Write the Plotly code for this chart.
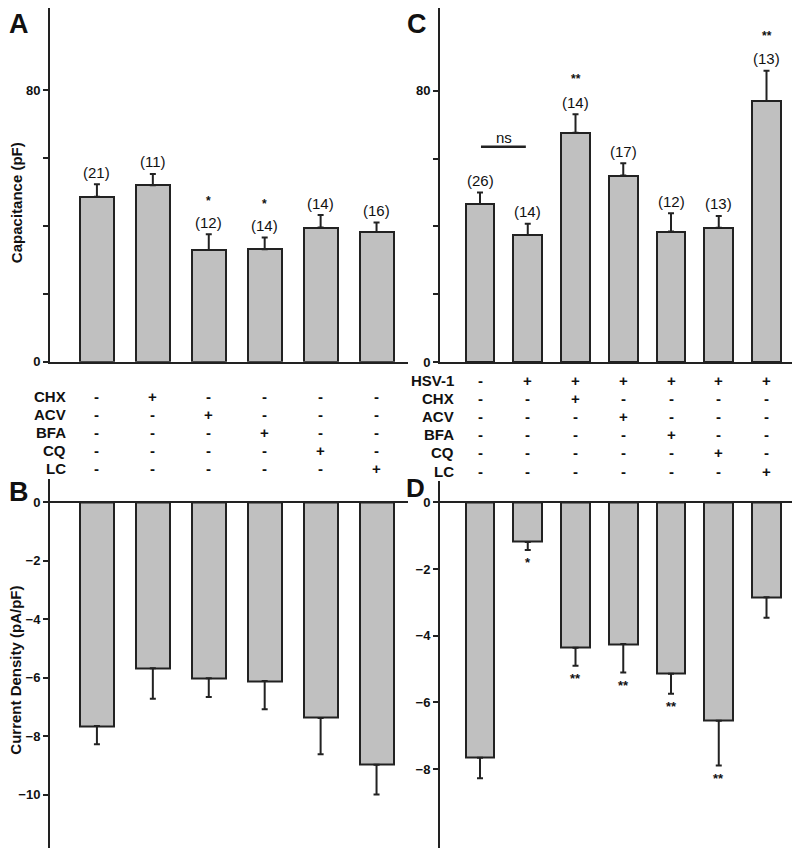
import plotly.graph_objects as go

W, H = 800, 848

# ---------------- data ----------------
A_mean = [48.6, 52.0, 32.9, 33.1, 39.5, 38.2]
A_err = [3.7, 3.3, 4.6, 3.5, 3.7, 2.8]
A_n = ["(21)", "(11)", "(12)", "(14)", "(14)", "(16)"]
A_sig = ["", "", "*", "*", "", ""]

B_mean = [-7.66, -5.68, -6.02, -6.12, -7.38, -8.98]
B_err = [0.62, 1.04, 0.64, 0.96, 1.24, 1.02]

C_mean = [46.6, 37.5, 67.6, 55.0, 38.5, 39.6, 77.0]
C_err = [3.4, 3.3, 5.5, 3.6, 5.4, 3.5, 8.9]
C_n = ["(26)", "(14)", "(14)", "(17)", "(12)", "(13)", "(13)"]
C_sig = ["", "", "**", "", "", "", "**"]

D_mean = [-7.66, -1.19, -4.36, -4.25, -5.14, -6.55, -2.85]
D_err = [0.61, 0.24, 0.54, 0.85, 0.60, 1.34, 0.61]
D_sig = ["", "*", "**", "**", "**", "**", ""]

left_rows = ["CHX", "ACV", "BFA", "CQ", "LC"]
left_flags = [
    ["-", "+", "-", "-", "-", "-"],
    ["-", "-", "+", "-", "-", "-"],
    ["-", "-", "-", "+", "-", "-"],
    ["-", "-", "-", "-", "+", "-"],
    ["-", "-", "-", "-", "-", "+"],
]
right_rows = ["HSV-1", "CHX", "ACV", "BFA", "CQ", "LC"]
right_flags = [
    ["-", "+", "+", "+", "+", "+", "+"],
    ["-", "-", "+", "-", "-", "-", "-"],
    ["-", "-", "-", "+", "-", "-", "-"],
    ["-", "-", "-", "-", "+", "-", "-"],
    ["-", "-", "-", "-", "-", "+", "-"],
    ["-", "-", "-", "-", "-", "-", "+"],
]

A_ticks = [0, 20, 40, 60, 80]
A_ticktext = ["0", "", "", "", "80"]
B_ticks = [0, -2, -4, -6, -8, -10]
D_ticks = [0, -2, -4, -6, -8]
ns_level = 63.5

# ---------------- styling ----------------
FONT = "Liberation Sans, Arial, sans-serif"
BAR_FILL = "#c0c0c0"
EDGE = "#222222"


def px_x(p):
    return p / W


def px_y(p):
    return 1 - p / H


fig = go.Figure()

xA = list(range(len(A_mean)))
xC = list(range(len(C_mean)))


def bar(x, y, err, up, xa, ya, width):
    return go.Bar(
        x=x, y=y, width=width, xaxis=xa, yaxis=ya,
        marker=dict(color=BAR_FILL, line=dict(color=EDGE, width=2)),
        error_y=dict(type="data", symmetric=False,
                     array=err if up else [0] * len(err),
                     arrayminus=[0] * len(err) if up else err,
                     color=EDGE, thickness=2, width=3),
        showlegend=False, hoverinfo="skip",
    )


fig.add_trace(bar(xA, A_mean, A_err, True, "x", "y", 0.607))
fig.add_trace(bar(xA, B_mean, B_err, False, "x2", "y2", 0.607))
fig.add_trace(bar(xC, C_mean, C_err, True, "x3", "y3", 0.6))
fig.add_trace(bar(xC, D_mean, D_err, False, "x4", "y4", 0.6))

# ns line
fig.add_trace(go.Scatter(x=[0.02, 0.96], y=[ns_level, ns_level], mode="lines",
                         line=dict(color=EDGE, width=2.5), xaxis="x3", yaxis="y3",
                         showlegend=False, hoverinfo="skip"))

yaxis_common = dict(showline=True, linecolor=EDGE, linewidth=2, ticks="outside",
                    ticklen=5, tickwidth=2, tickcolor=EDGE, showgrid=False,
                    tickfont=dict(family=FONT, size=13, color="#111", weight="bold"),
                    fixedrange=True)

fig.update_layout(
    width=W, height=H, margin=dict(l=0, r=0, t=0, b=0),
    paper_bgcolor="white", plot_bgcolor="white",
    bargap=0,
    xaxis=dict(domain=[px_x(42), px_x(400)], range=[-0.839, 5.5625], showline=True,
               linecolor=EDGE, linewidth=2, showticklabels=False, ticks="",
               showgrid=False, zeroline=False),
    yaxis=dict(domain=[px_y(357), 1], range=[0, 104.2], tickvals=A_ticks,
               ticktext=A_ticktext, zeroline=False, **yaxis_common),
    xaxis2=dict(domain=[px_x(42), px_x(400)], range=[-0.839, 5.5625], anchor="y2",
                showline=False, showticklabels=False, ticks="", showgrid=False,
                zeroline=False),
    yaxis2=dict(domain=[0, px_y(475)], range=[-11.83, 0.81], anchor="x2",
                tickvals=B_ticks, zeroline=True, zerolinecolor=EDGE, zerolinewidth=2,
                **yaxis_common),
    xaxis3=dict(domain=[px_x(432), 1], range=[-0.838, 6.869], anchor="y3",
                showline=True, linecolor=EDGE, linewidth=2, showticklabels=False,
                ticks="", showgrid=False, zeroline=False),
    yaxis3=dict(domain=[px_y(357.5), 1], range=[0, 104.4], anchor="x3",
                tickvals=A_ticks, ticktext=A_ticktext, zeroline=False, **yaxis_common),
    xaxis4=dict(domain=[px_x(432), 1], range=[-0.838, 6.869], anchor="y4",
                showline=False, showticklabels=False, ticks="", showgrid=False,
                zeroline=False),
    yaxis4=dict(domain=[0, px_y(478)], range=[-10.36, 0.62], anchor="x4",
                tickvals=D_ticks, zeroline=True, zerolinecolor=EDGE, zerolinewidth=2,
                **yaxis_common),
)

ann = []


def add(text, x, y, xref="paper", yref="paper", size=15, bold=False,
        xanchor="center", yanchor="middle", yshift=0, angle=0):
    ann.append(dict(text=text, x=x, y=y, xref=xref, yref=yref, showarrow=False,
                    xanchor=xanchor, yanchor=yanchor, yshift=yshift, textangle=angle,
                    borderpad=0,
                    font=dict(family=FONT, size=size, color="#111",
                              weight="bold" if bold else "normal")))


# n labels and significance, top panels
for i, (m, e) in enumerate(zip(A_mean, A_err)):
    add(A_n[i], i, m + e, "x", "y", size=15, yshift=12)
    if A_sig[i]:
        add(A_sig[i], i, m + e, "x", "y", size=12, bold=True, yshift=33)
for i, (m, e) in enumerate(zip(C_mean, C_err)):
    add(C_n[i], i, m + e, "x3", "y3", size=15, yshift=12)
    if C_sig[i]:
        add(C_sig[i], i, m + e, "x3", "y3", size=12, bold=True, yshift=35)
add("ns", 0.5, ns_level, "x3", "y3", size=15, yshift=9)

# significance, bottom-right panel
for i, (m, e) in enumerate(zip(D_mean, D_err)):
    if D_sig[i]:
        add(D_sig[i], i, m - e, "x4", "y4", size=13, bold=True, yshift=-13)

# treatment tables
row_step = 18.3
for r, name in enumerate(left_rows):
    yp = px_y(392 + r * row_step)
    add(name, px_x(59), yp, size=15, bold=True, xanchor="right")
    for c, f in enumerate(left_flags[r]):
        add(f, c, yp, "x", "paper", size=15, bold=True)
for r, name in enumerate(right_rows):
    yp = px_y(376 + r * row_step)
    add(name, px_x(447), yp, size=15, bold=True, xanchor="right")
    for c, f in enumerate(right_flags[r]):
        add(f, c, yp, "x3", "paper", size=15, bold=True)

# axis titles
add("Capacitance (pF)", px_x(8), px_y(197), size=15, bold=True, angle=-90)
add("Current Density (pA/pF)", px_x(8), px_y(669), size=15, bold=True, angle=-90)

# panel letters
add("A", px_x(11), px_y(16), size=27, bold=True)
add("B", px_x(11), px_y(489), size=27, bold=True)
add("C", px_x(409), px_y(16), size=27, bold=True)
add("D", px_x(407), px_y(485), size=26, bold=True)

fig.update_layout(annotations=ann)
fig.write_html("out.html")
